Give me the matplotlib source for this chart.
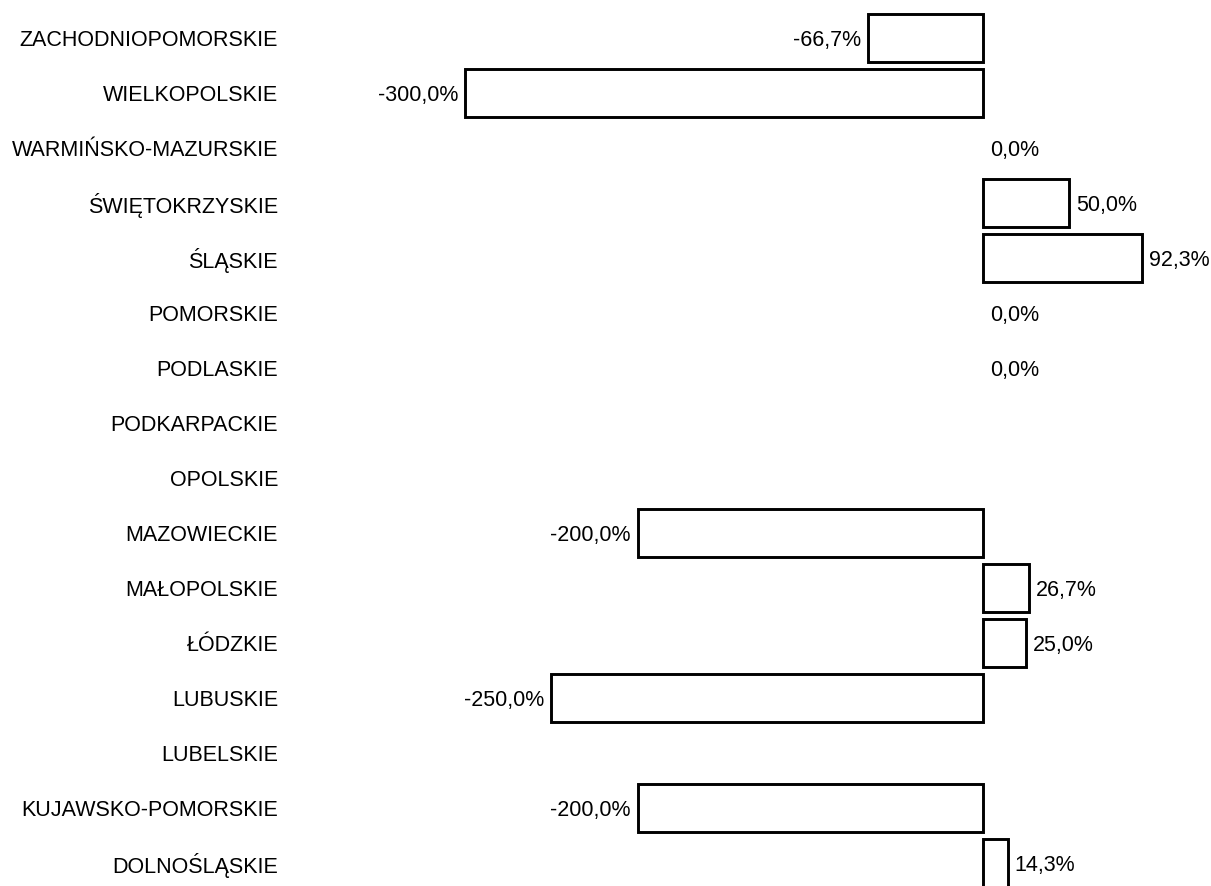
import numpy as np
import matplotlib
matplotlib.use("Agg")
import matplotlib.pyplot as plt

plt.rcParams['font.family'] = ['Liberation Sans', 'DejaVu Sans']

regions = ["ZACHODNIOPOMORSKIE", "WIELKOPOLSKIE", "WARMIŃSKO-MAZURSKIE", "ŚWIĘTOKRZYSKIE",
           "ŚLĄSKIE", "POMORSKIE", "PODLASKIE", "PODKARPACKIE", "OPOLSKIE", "MAZOWIECKIE",
           "MAŁOPOLSKIE", "ŁÓDZKIE", "LUBUSKIE", "LUBELSKIE", "KUJAWSKO-POMORSKIE", "DOLNOŚLĄSKIE"]
values = [-66.7, -300.0, 0.0, 50.0, 92.3, 0.0, 0.0, np.nan, np.nan, -200.0,
          26.7, 25.0, -250.0, np.nan, -200.0, 14.3]

W, H = 1211, 886
FS = 15.5
fig = plt.figure(figsize=(W / 100, H / 100), dpi=100)
left_px = 290
ax = fig.add_axes([left_px / W, 0, 1 - left_px / W, 1])

scale = (983 - 465) / 300.0
ax.set_xlim((left_px - 983) / scale, (W - 983) / scale)
ax.set_ylim((H - 38) / 55.0, -38 / 55.0)

y = np.arange(len(regions))
for yi, v in zip(y, values):
    if np.isnan(v):
        continue
    if v != 0:
        ax.barh(yi, v, height=0.87, color='white', edgecolor='black', linewidth=2.1)
    txt = f"{v:.1f}".replace('.', ',') + "%"
    if v < 0:
        ax.annotate(txt, (v, yi), xytext=(-5, -1.5), textcoords='offset points',
                    ha='right', va='center', fontsize=FS)
    else:
        ax.annotate(txt, (v, yi), xytext=(5, -1.5), textcoords='offset points',
                    ha='left', va='center', fontsize=FS)

ax.set_yticks(y)
ax.set_yticklabels(regions, fontsize=FS)
ax.tick_params(axis='y', length=0, pad=8.6)
ax.set_xticks([])
for s in ax.spines.values():
    s.set_visible(False)

fig.savefig("out.png", dpi=100)
